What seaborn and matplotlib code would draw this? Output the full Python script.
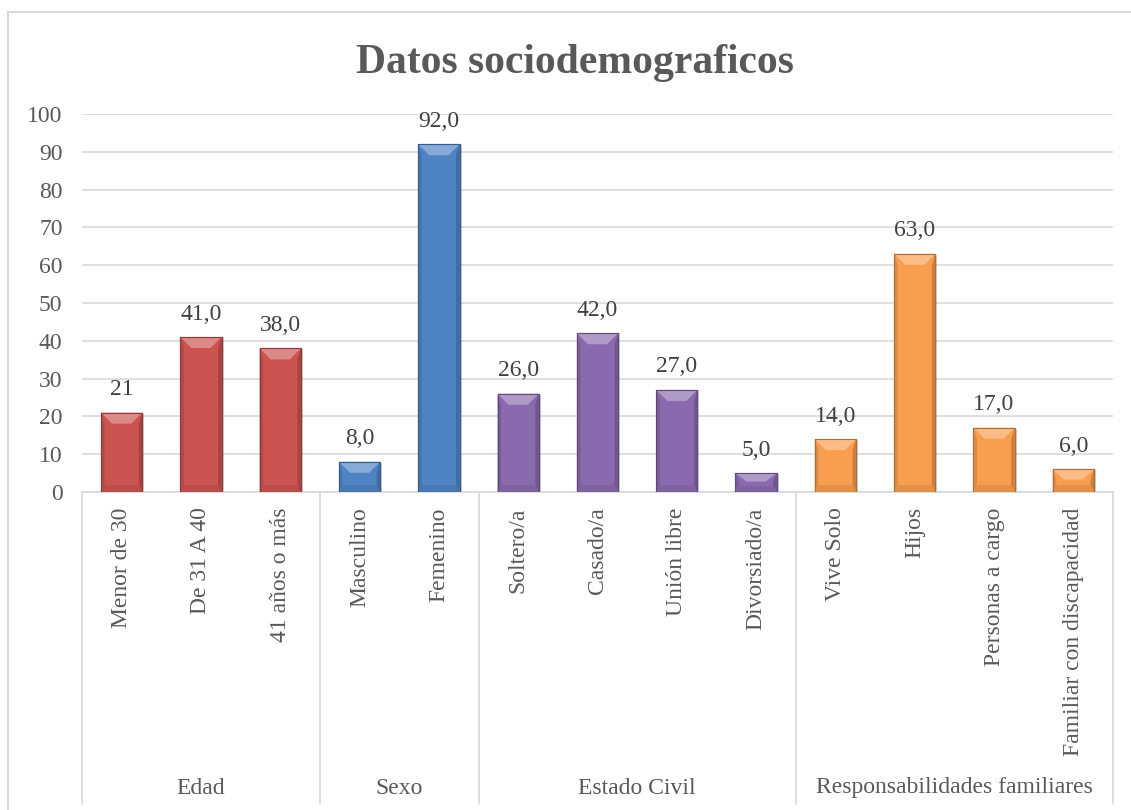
import matplotlib
matplotlib.use("Agg")
import matplotlib.pyplot as plt
import matplotlib.colors as mcolors
from matplotlib.patches import Polygon, Rectangle
from matplotlib.lines import Line2D
import seaborn as sns
import pandas as pd
import numpy as np

# ---------------- data ----------------
categories = ["Menor de 30", "De 31 A 40", "41 años o más",
              "Masculino", "Femenino",
              "Soltero/a", "Casado/a", "Unión libre", "Divorsiado/a",
              "Vive Solo", "Hijos", "Personas a cargo", "Familiar con discapacidad"]
values = [21, 41, 38, 8, 92, 26, 42, 27, 5, 14, 63, 17, 6]
value_labels = ["21", "41,0", "38,0", "8,0", "92,0", "26,0", "42,0", "27,0", "5,0",
                "14,0", "63,0", "17,0", "6,0"]
groups = ["Edad", "Sexo", "Estado Civil", "Responsabilidades familiares"]
group_sizes = [3, 2, 4, 4]
group_colors = {"Edad": "#CB5350", "Sexo": "#4F84C4",
                "Estado Civil": "#8A6AAE", "Responsabilidades familiares": "#F99D4E"}
title = "Datos sociodemograficos"
yticks = list(range(0, 101, 10))

group_col = []
for g, n in zip(groups, group_sizes):
    group_col += [g] * n
df = pd.DataFrame({"cat": categories, "val": values, "grp": group_col})

# ---------------- figure ----------------
sns.set_theme(style="white")
plt.rcParams["font.family"] = ["Liberation Serif", "DejaVu Serif"]

W, H = 1131, 810
fig = plt.figure(figsize=(W / 100, H / 100), dpi=100)
fig.patch.set_facecolor("white")
ax_l, ax_r, ax_b, ax_t = 82, 1113, 492, 114
ax = fig.add_axes([ax_l / W, 1 - ax_b / H, (ax_r - ax_l) / W, (ax_b - ax_t) / H])

sns.barplot(data=df, x="cat", y="val", hue="grp", palette=group_colors,
            dodge=False, width=0.52, legend=False, ax=ax, saturation=1,
            order=categories, hue_order=groups)

ax.set_xlim(-0.5, len(categories) - 0.5)
ax.set_ylim(0, 100)
ax.set_yticks(yticks)
ax.set_yticklabels([str(t) for t in yticks], fontsize=17, color="#595959")
ax.tick_params(axis="y", length=0, pad=14)
ax.yaxis.grid(True, color="#D9D9D9", linewidth=1.2)
ax.set_axisbelow(True)
for s in ["top", "right", "left"]:
    ax.spines[s].set_visible(False)
ax.spines["bottom"].set_color("#D9D9D9")
ax.spines["bottom"].set_linewidth(1.2)
ax.set_xlabel("")
ax.set_ylabel("")
ax.set_xticks(range(len(categories)))
ax.set_xticklabels(categories, rotation=90, fontsize=17, color="#595959", va="top")
ax.tick_params(axis="x", length=0, pad=11)

# pixel -> data conversions
px_x = (len(categories)) / (ax_r - ax_l)
px_y = 100.0 / (ax_b - ax_t)

def shade(c, f):
    r, g, b = mcolors.to_rgb(c)
    if f >= 0:
        return (r + (1 - r) * f, g + (1 - g) * f, b + (1 - b) * f)
    f = -f
    return (r * (1 - f), g * (1 - f), b * (1 - f))

bars = [p for p in ax.patches if isinstance(p, Rectangle) and p.get_height() > 0]
bars.sort(key=lambda p: p.get_x())
for p in bars:
    x0 = p.get_x(); w = p.get_width(); h = p.get_height(); x1 = x0 + w
    base = p.get_facecolor()
    p.set_edgecolor(shade(base, -0.25))
    p.set_linewidth(0.8)
    p.set_zorder(3)
    # soft shadow
    sh = Rectangle((x0 + 2 * px_x, 0), w, h - 1 * px_y, facecolor="#000000",
                   alpha=0.18, edgecolor="none", zorder=2.5)
    ax.add_patch(sh)
    d = 11; s = 3.5
    dy = min(d * px_y, h * 0.45); dx = min(d * px_x, w * 0.3)
    sx = s * px_x
    # top facet
    ax.add_patch(Polygon([(x0, h), (x1, h), (x1 - dx, h - dy), (x0 + dx, h - dy)],
                         closed=True, facecolor=shade(base, 0.32), edgecolor="none", zorder=4))
    # side facets
    by = min(7 * px_y, h * 0.3)
    ax.add_patch(Polygon([(x0, h), (x0 + sx, h - dy), (x0 + sx, by), (x0, 0)],
                         closed=True, facecolor=shade(base, -0.12), edgecolor="none", zorder=4))
    ax.add_patch(Polygon([(x1, h), (x1 - sx, h - dy), (x1 - sx, by), (x1, 0)],
                         closed=True, facecolor=shade(base, -0.18), edgecolor="none", zorder=4))
    # bottom facet
    ax.add_patch(Polygon([(x0, 0), (x1, 0), (x1 - sx, by), (x0 + sx, by)],
                         closed=True, facecolor=shade(base, -0.08), edgecolor="none", zorder=4))
    # outline
    ax.add_patch(Rectangle((x0, 0), w, h, facecolor="none",
                           edgecolor=shade(base, -0.3), linewidth=0.8, zorder=5))

# value labels
for cont in ax.containers:
    labs = []
    for r in cont:
        if r.get_height() > 0:
            i = int(round(r.get_x() + r.get_width() / 2))
            labs.append(value_labels[i])
        else:
            labs.append("")
    ax.bar_label(cont, labels=labs, padding=9, fontsize=17, color="#404040")

# group separators and labels (multi-level category axis)
fig_tr = fig.transFigure
bounds = np.cumsum([0] + group_sizes) - 0.5
for b in bounds:
    xf = (ax_l + (b + 0.5) / len(categories) * (ax_r - ax_l)) / W
    fig.add_artist(Line2D([xf, xf], [1 - 492 / H, 1 - 804 / H], transform=fig_tr,
                          color="#D9D9D9", linewidth=1.2))
for i, g in enumerate(groups):
    mid = (bounds[i] + bounds[i + 1]) / 2
    xf = (ax_l + (mid + 0.5) / len(categories) * (ax_r - ax_l)) / W
    fig.text(xf, 1 - 788 / H, g, ha="center", va="center", fontsize=17, color="#595959")

# chart title
fig.text(575 / W, 1 - 63 / H, title, ha="center", va="center", fontsize=30,
         fontweight="bold", color="#595959")

# chart border
fig.add_artist(Line2D([8 / W, 1], [1 - 12 / H, 1 - 12 / H], transform=fig_tr,
                      color="#D9D9D9", linewidth=1.5))
fig.add_artist(Line2D([8 / W, 8 / W], [0, 1 - 12 / H], transform=fig_tr,
                      color="#D9D9D9", linewidth=1.5))

fig.savefig("out.png", dpi=100, facecolor="white")
